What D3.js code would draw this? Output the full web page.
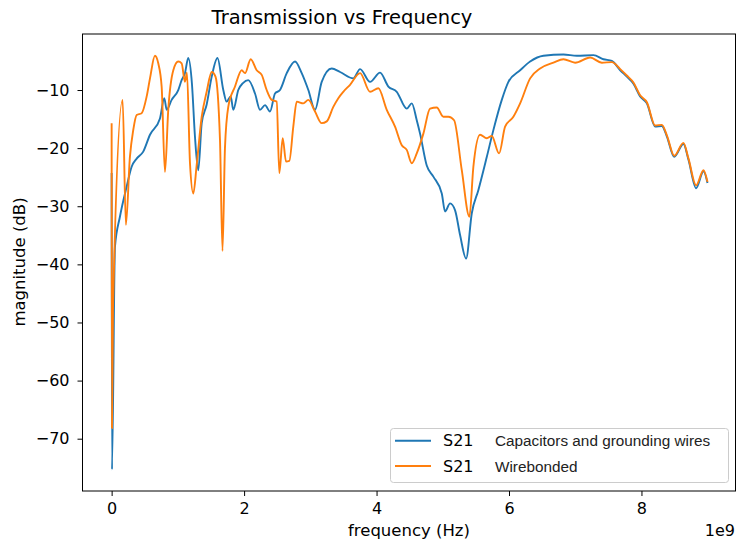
<!DOCTYPE html>
<html>
<head>
<meta charset="utf-8">
<script src="https://cdn.jsdelivr.net/npm/d3@7"></script>
<style>
  body { margin: 0; background: white; }
  text { font-family: "DejaVu Sans", sans-serif; fill: black; }
</style>
</head>
<body>
<svg id="chart"></svg>
<script>
// frequency in GHz (axis shows x 1e9), magnitude in dB
var capFreq = [0, 0.005, 0.05, 0.125, 0.227, 0.302, 0.378, 0.477, 0.579, 0.730, 0.795, 0.831, 0.906, 1.006, 1.057, 1.107, 1.157, 1.213, 1.258, 1.308, 1.360, 1.435, 1.511, 1.598, 1.686, 1.737, 1.798, 1.837, 1.912, 1.983, 2.063, 2.165, 2.240, 2.316, 2.391, 2.467, 2.542, 2.644, 2.769, 2.870, 2.970, 3.071, 3.172, 3.323, 3.449, 3.650, 3.751, 3.902, 4.053, 4.178, 4.305, 4.456, 4.532, 4.607, 4.657, 4.758, 4.858, 4.985, 5.035, 5.110, 5.186, 5.262, 5.352, 5.438, 5.538, 5.665, 5.764, 5.891, 5.991, 6.168, 6.319, 6.520, 6.822, 7.024, 7.275, 7.426, 7.553, 7.679, 7.779, 7.879, 7.980, 8.082, 8.207, 8.308, 8.384, 8.494, 8.634, 8.710, 8.825, 8.937, 8.997];
var capMag = [-24.3, -75.3, -37, -31.8, -26.6, -23.2, -21.8, -20.6, -17.7, -14.9, -11.4, -13.4, -11.7, -10, -8.3, -7.1, -4.5, -9, -18, -23.8, -15.7, -12.5, -7.7, -4.5, -10, -12, -11.1, -13.4, -10, -8.8, -8.3, -10.6, -13.4, -12.6, -13.7, -10.6, -10, -7.1, -5.1, -7.1, -10, -13.4, -8.6, -6.3, -6.9, -8, -6.4, -8.6, -7, -9.4, -10.3, -13.2, -12.3, -15.2, -17.5, -23, -24.9, -27.8, -30.9, -29.5, -30.7, -35, -39, -31.2, -27.2, -21.5, -16.9, -11.7, -8.6, -6.6, -5.1, -4.1, -3.9, -4.1, -4.0, -4.7, -5.0, -6.6, -7.7, -8.9, -11.1, -12.3, -16.3, -16.2, -18, -21.5, -19.3, -22, -26.9, -24, -26];

var wireFreq = [0, 0.005, 0.02, 0.166, 0.215, 0.276, 0.326, 0.378, 0.453, 0.529, 0.579, 0.654, 0.704, 0.755, 0.805, 0.855, 0.931, 1.006, 1.057, 1.107, 1.137, 1.183, 1.233, 1.284, 1.360, 1.435, 1.511, 1.568, 1.636, 1.674, 1.711, 1.761, 1.863, 1.964, 2.014, 2.100, 2.190, 2.266, 2.341, 2.417, 2.492, 2.532, 2.583, 2.633, 2.683, 2.743, 2.795, 2.894, 2.970, 3.071, 3.172, 3.248, 3.347, 3.423, 3.498, 3.600, 3.751, 3.902, 4.027, 4.154, 4.279, 4.381, 4.456, 4.532, 4.607, 4.707, 4.808, 4.909, 5.009, 5.085, 5.171, 5.287, 5.402, 5.462, 5.563, 5.665, 5.740, 5.850, 5.941, 6.066, 6.168, 6.319, 6.470, 6.671, 6.822, 6.999, 7.225, 7.402, 7.553, 7.679, 7.779, 7.879, 7.980, 8.082, 8.207, 8.308, 8.384, 8.494, 8.634, 8.710, 8.825, 8.937, 8.997];
var wireMag = [-15.7, -68.2, -48, -11.7, -33.2, -21.5, -16.9, -14.3, -14, -11.1, -8, -4.1, -5.4, -9.4, -24.1, -13.4, -6.6, -5.1, -5.4, -8.6, -7.0, -22.6, -27.8, -22.9, -14.6, -10.3, -6.9, -7.7, -18.6, -37.7, -20, -12.9, -9.4, -6.6, -7.1, -4.7, -6.6, -7.4, -10, -11.7, -12, -24.3, -18.3, -22.3, -22.2, -16.3, -12, -12.3, -11.7, -13.7, -15.7, -15.4, -12.9, -11.4, -10.3, -9.1, -7.1, -10.3, -9.7, -13.4, -16.3, -19.5, -20.3, -22.6, -20.9, -17.5, -13.2, -13, -14.6, -14.6, -15.2, -23.8, -31.8, -23.2, -17.7, -18.3, -17.9, -20.9, -16.3, -14.6, -12.3, -8, -6.3, -5.3, -4.7, -5.3, -4.4, -5.3, -5.2, -6.4, -7.5, -8.7, -10.9, -12.1, -16.1, -16.0, -17.8, -21.3, -19.1, -21.8, -26.4, -23.8, -25.8];

var xTicks = [0, 2, 4, 6, 8];
var yTicks = [-70, -60, -50, -40, -30, -20, -10];
var seriesNames = ["Capacitors and grounding wires", "Wirebonded"];
var seriesColors = ["#1f77b4", "#ff7f0e"];

var dimensions = {
    width: 737,
    height: 544,
    margin: {
        top: 34,
        bottom: 53,
        right: 1.5,
        left: 82.5
    }
}

var svg = d3.select("#chart")
    .attr("width", dimensions.width)
    .attr("height", dimensions.height);

var xScale = d3.scaleLinear()
    .domain([-0.44, 9.42])
    .range([dimensions.margin.left, dimensions.width - dimensions.margin.right]);

var yScale = d3.scaleLinear()
    .domain([-79.0, -0.36])
    .range([dimensions.height - dimensions.margin.bottom, dimensions.margin.top]);

var series = [
    { name: seriesNames[0], color: seriesColors[0], points: capFreq.map((f, i) => [f, capMag[i]]) },
    { name: seriesNames[1], color: seriesColors[1], points: wireFreq.map((f, i) => [f, wireMag[i]]) }
];

var line = d3.line()
    .x(d => xScale(d[0]))
    .y(d => yScale(d[1]))
    .curve(d3.curveMonotoneX);

svg.selectAll(".series-line")
    .data(series)
    .enter()
    .append("path")
    .attr("class", "series-line")
    .attr("d", d => line(d.points))
    .style("stroke", d => d.color)
    .style("stroke-width", 1.9)
    .style("stroke-linejoin", "round")
    .style("fill", "none");

// axes
var xAxis = svg.append("g")
    .attr("transform", `translate(0,${dimensions.height - dimensions.margin.bottom})`)
    .call(d3.axisBottom(xScale).tickValues(xTicks).tickSize(5).tickPadding(7).tickFormat(d3.format("d")));

var yAxis = svg.append("g")
    .attr("transform", `translate(${dimensions.margin.left},0)`)
    .call(d3.axisLeft(yScale).tickValues(yTicks).tickSize(5).tickPadding(8).tickFormat(d3.format("d")));

[xAxis, yAxis].forEach(g => {
    g.select(".domain").remove();
    g.selectAll("text").style("font-size", "16px").style("font-family", "DejaVu Sans");
    g.selectAll("line").attr("stroke", "black").attr("stroke-width", 1);
});

// frame
svg.append("rect")
    .attr("x", dimensions.margin.left)
    .attr("y", dimensions.margin.top)
    .attr("width", dimensions.width - dimensions.margin.right - dimensions.margin.left)
    .attr("height", dimensions.height - dimensions.margin.bottom - dimensions.margin.top)
    .attr("fill", "none")
    .attr("stroke", "black")
    .attr("stroke-width", 1);

svg.append("text")
    .attr("text-anchor", "middle")
    .attr("x", 342)
    .attr("y", 24)
    .style("font-size", "19.5px")
    .text("Transmission vs Frequency");

svg.append("text")
    .attr("text-anchor", "middle")
    .attr("x", 409)
    .attr("y", 536)
    .style("font-size", "16.5px")
    .text("frequency (Hz)");

svg.append("text")
    .attr("text-anchor", "end")
    .attr("x", 735)
    .attr("y", 536)
    .style("font-size", "16px")
    .text("1e9");

svg.append("text")
    .attr("text-anchor", "middle")
    .attr("transform", "translate(25,262) rotate(-90)")
    .style("font-size", "16.5px")
    .text("magnitude (dB)");

// legend
svg.append("rect")
    .attr("x", 390.5)
    .attr("y", 428.5)
    .attr("width", 338)
    .attr("height", 54)
    .attr("rx", 3)
    .attr("fill", "white")
    .attr("fill-opacity", 0.8)
    .attr("stroke", "#cccccc");

var legend = svg.selectAll(".legend")
    .data(series)
    .enter()
    .append("g")
    .attr("class", "legend")
    .attr("transform", (d, i) => `translate(0,${440.7 + i * 25.3})`);

legend.append("line")
    .attr("x1", 395)
    .attr("x2", 431)
    .attr("stroke", d => d.color)
    .attr("stroke-width", 1.9);

var legendText = legend.append("text")
    .attr("x", 443)
    .attr("dy", "0.36em")
    .style("font-size", "16px");

legendText.append("tspan")
    .text("S21");

legendText.append("tspan")
    .attr("x", 495)
    .style("font-family", "Liberation Sans")
    .style("font-size", "15.3px")
    .style("fill", "#222")
    .text(d => d.name);
</script>
</body>
</html>
